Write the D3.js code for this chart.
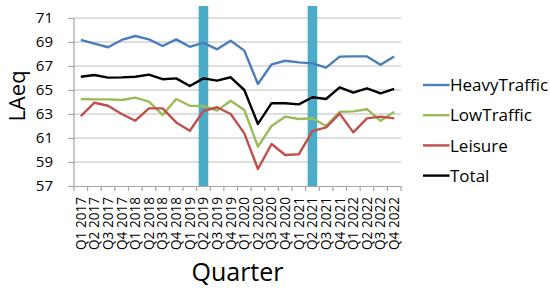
<!DOCTYPE html>
<html>
<head>
<meta charset="utf-8">
<script src="https://cdn.jsdelivr.net/npm/d3@7/dist/d3.min.js"></script>
<style>
  html, body { margin: 0; padding: 0; background: #fff; }
  svg { display: block; font-family: "Open Sans", sans-serif; }
</style>
</head>
<body>
<svg id="chart" width="550" height="292"></svg>
<script>
const quarters = [
  "Q1 2017","Q2 2017","Q3 2017","Q4 2017",
  "Q1 2018","Q2 2018","Q3 2018","Q4 2018",
  "Q1 2019","Q2 2019","Q3 2019","Q4 2019",
  "Q1 2020","Q2 2020","Q3 2020","Q4 2020",
  "Q1 2021","Q2 2021","Q3 2021","Q4 2021",
  "Q1 2022","Q2 2022","Q3 2022","Q4 2022"
];
const heavyTraffic = [69.17,68.86,68.56,69.17,69.5,69.22,68.67,69.22,68.6,68.94,68.39,69.1,68.28,65.5,67.14,67.44,67.3,67.22,66.86,67.78,67.8,67.8,67.1,67.8];
const lowTraffic   = [64.25,64.22,64.22,64.17,64.36,64.03,62.92,64.25,63.69,63.67,63.28,64.11,63.33,60.28,62.0,62.78,62.58,62.64,62.0,63.19,63.22,63.4,62.44,63.19];
const leisure      = [62.83,63.94,63.69,63.0,62.44,63.47,63.47,62.3,61.6,63.25,63.56,63.0,61.39,58.42,60.5,59.58,59.64,61.58,61.89,63.03,61.47,62.64,62.78,62.64];
const total        = [66.1,66.25,66.03,66.05,66.1,66.28,65.9,65.97,65.33,65.97,65.78,66.06,65.0,62.17,63.9,63.9,63.8,64.4,64.25,65.22,64.78,65.14,64.72,65.1];
const markerQuarters = ["Q2 2019","Q2 2021"];
const markerValue = 72;
const yTicks = [57,59,61,63,65,67,69,71];
const seriesNames = ["HeavyTraffic","LowTraffic","Leisure","Total"];
const seriesColors = ["#4a7ebb","#9bbb59","#c0504d","#000000"];
const yTitle = "LAeq";
const xTitle = "Quarter";

const series = [heavyTraffic, lowTraffic, leisure, total];

const svg = d3.select("#chart");
const pLeft = 74, pRight = 401, pTop = 6, pBottom = 186;

const x = d3.scaleBand().domain(quarters).range([pLeft, pRight]).padding(0);
const y = d3.scaleLinear().domain([57, 72]).range([pBottom, pTop]);
const bw = x.bandwidth();
const cx = q => x(q) + bw / 2;

// gridlines
svg.append("g").selectAll("line").data(yTicks.filter(t => t !== 57)).join("line")
  .attr("x1", pLeft).attr("x2", pRight)
  .attr("y1", d => y(d)).attr("y2", d => y(d))
  .attr("stroke", "#bdbdbd").attr("stroke-width", 1.2);

// y axis
const yAxis = d3.axisLeft(y).tickValues(yTicks).tickSize(6).tickSizeOuter(0).tickPadding(15);
const gy = svg.append("g").attr("transform", `translate(${pLeft},0)`).call(yAxis);
gy.select(".domain").attr("stroke", "#a6a6a6").attr("stroke-width", 1.2).attr("d", `M0,${pBottom}V${y(71)}`);
gy.selectAll(".tick line").attr("stroke", "#a6a6a6").attr("stroke-width", 1.2);
gy.selectAll(".tick text").attr("font-size", 15).attr("font-family", "Open Sans, sans-serif").attr("fill", "#000");

// marker bars
svg.append("g").selectAll("rect").data(markerQuarters).join("rect")
  .attr("x", d => cx(d) - 4.8)
  .attr("width", 9.6)
  .attr("y", y(markerValue))
  .attr("height", y(57) - y(markerValue))
  .attr("fill", "#4aacc6");

// x axis
const xAxis = d3.axisBottom(x).tickSize(0).tickSizeOuter(0).tickPadding(0);
const gx = svg.append("g").attr("transform", `translate(0,${pBottom})`).call(xAxis);
gx.select(".domain").attr("stroke", "#a6a6a6").attr("stroke-width", 1.2);
gx.selectAll(".tick text")
  .attr("transform", "rotate(-90)")
  .attr("text-anchor", "end")
  .attr("x", -11).attr("y", 0).attr("dy", "0.36em")
  .attr("font-size", 13.6)
  .attr("font-family", "Open Sans, sans-serif")
  .attr("fill", "#000");
// category boundary tick marks
const edges = quarters.map(q => x(q)).concat([pRight]);
gx.append("g").selectAll("line").data(edges).join("line")
  .attr("x1", d => d).attr("x2", d => d)
  .attr("y1", 0).attr("y2", 5)
  .attr("stroke", "#a6a6a6").attr("stroke-width", 1.2);

// lines
const lineGen = d3.line().x((d, i) => cx(quarters[i])).y(d => y(d));
svg.append("g").selectAll("path").data(series).join("path")
  .attr("d", d => lineGen(d))
  .attr("fill", "none")
  .attr("stroke", (d, i) => seriesColors[i])
  .attr("stroke-width", 2.4)
  .attr("stroke-linejoin", "round");

// legend
const lg = svg.append("g").selectAll("g").data(seriesNames).join("g")
  .attr("transform", (d, i) => `translate(423,${85 + i * 30.2})`);
lg.append("line").attr("x1", 0).attr("x2", 26.5).attr("y1", 0).attr("y2", 0)
  .attr("stroke", (d, i) => seriesColors[i]).attr("stroke-width", 2.4);
lg.append("text").attr("x", 27).attr("dy", "0.36em")
  .attr("font-size", 17).attr("fill", "#000").text(d => d);

// axis titles
svg.append("text")
  .attr("transform", `translate(25,${(pTop + pBottom) / 2}) rotate(-90)`)
  .attr("text-anchor", "middle")
  .attr("font-size", 22)
  .attr("fill", "#000").text(yTitle);
svg.append("text")
  .attr("x", (pLeft + pRight) / 2).attr("y", 281)
  .attr("text-anchor", "middle")
  .attr("font-size", 25).attr("fill", "#000").text(xTitle);
</script>
</body>
</html>
